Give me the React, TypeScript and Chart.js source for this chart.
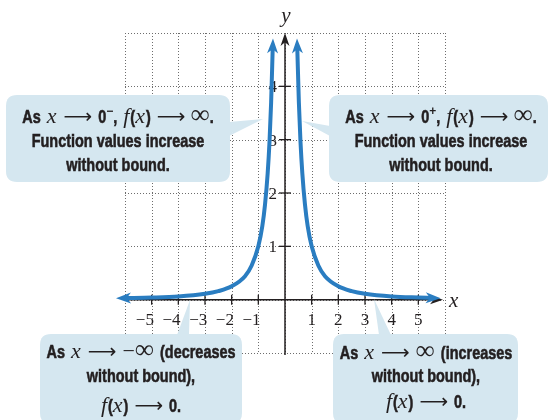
import React, { useEffect, useRef } from "react";
import { Chart, registerables } from "chart.js";

Chart.register(...registerables);

// ---- data ----
const leftX = [-6, -5, -4, -3, -2.5, -2, -1.5, -1.25, -1, -0.85, -0.75, -0.65, -0.58, -0.52, -0.46];
const leftY = [0.03, 0.04, 0.06, 0.11, 0.16, 0.25, 0.44, 0.64, 1.0, 1.38, 1.78, 2.37, 2.97, 3.7, 4.73];
const rightX = [0.46, 0.52, 0.58, 0.65, 0.75, 0.85, 1, 1.25, 1.5, 2, 2.5, 3, 4, 5, 5.5];
const rightY = [4.73, 3.7, 2.97, 2.37, 1.78, 1.38, 1.0, 0.64, 0.44, 0.25, 0.16, 0.11, 0.06, 0.04, 0.033];
const xTicks = [-5, -4, -3, -2, -1, 1, 2, 3, 4, 5];
const yTicks = [1, 2, 3, 4];
const xRange = [-6, 6];
const yRange = [-1, 5];

const BLUE = "#2a7dc1";
const INK = "#231f20";
const BOX = "#d5e7f0";

const B = 'bold 19px "Liberation Sans", Arial, sans-serif';
const M = 'italic 22px "Liberation Serif", "Times New Roman", serif';
const A = '20px "DejaVu Sans", sans-serif';
const S = '27px "Liberation Serif", serif';
const SUP = 'bold 12px "Liberation Sans", sans-serif';
const SX = 0.76;

type Seg = { t: string; f: string; sx?: number; dy?: number; w?: number; bold?: boolean };
const b = (t: string): Seg => ({ t, f: B, sx: SX, bold: true });
const m = (t: string): Seg => ({ t, f: M });
const arr: Seg = { t: "\u27F6", f: A, sx: 1.0 };
const inf: Seg = { t: "\u221E", f: S };
const g = (w: number): Seg => ({ t: "", f: B, w });

type Line = { segs: Seg[]; y: number };
type Callout = {
  box: [number, number, number, number];
  ptr: [number, number][];
  cx: number;
  lines: Line[];
};

const fx: Seg[] = [m("f"), g(1), b("("), m("x"), g(1), b(")")];
const line1L: Seg[] = [b("As"), g(6), m("x"), g(7), arr, g(6), b("0"), { t: "\u2212", f: SUP, dy: -8 }, b(","), g(6), ...fx, g(6), arr, g(5), inf, b(".")];
const line1R: Seg[] = [b("As"), g(6), m("x"), g(7), arr, g(6), b("0"), { t: "+", f: SUP, dy: -8 }, b(","), g(6), ...fx, g(6), arr, g(5), inf, b(".")];

const callouts: Callout[] = [
  {
    box: [6, 95, 230, 182],
    ptr: [[229, 122], [263, 119], [229, 136]],
    cx: 118,
    lines: [
      { segs: line1L, y: 123 },
      { segs: [b("Function values increase")], y: 147 },
      { segs: [b("without bound.")], y: 171 },
    ],
  },
  {
    box: [329, 95, 548, 182],
    ptr: [[330, 126], [302, 121], [330, 136]],
    cx: 441,
    lines: [
      { segs: line1R, y: 123 },
      { segs: [b("Function values increase")], y: 147 },
      { segs: [b("without bound.")], y: 171 },
    ],
  },
  {
    box: [40, 334, 242, 424],
    ptr: [[177, 335], [190, 300], [189, 335]],
    cx: 141,
    lines: [
      { segs: [b("As"), g(6), m("x"), g(7), arr, g(6), { t: "\u2212", f: '22px "Liberation Serif", serif' }, inf, g(6), b("(decreases")], y: 358 },
      { segs: [b("without bound),")], y: 382 },
      { segs: [...fx, g(6), arr, g(6), b("0.")], y: 412 },
    ],
  },
  {
    box: [333, 334, 518, 424],
    ptr: [[379, 335], [374, 299], [391, 335]],
    cx: 426,
    lines: [
      { segs: [b("As"), g(6), m("x"), g(7), arr, g(6), inf, g(6), b("(increases")], y: 359 },
      { segs: [b("without bound),")], y: 382 },
      { segs: [...fx, g(6), arr, g(6), b("0.")], y: 408 },
    ],
  },
];

function drawRich(ctx: CanvasRenderingContext2D, segs: Seg[], cx: number, baseline: number) {
  const widths = segs.map((s) => {
    if (s.w !== undefined) return s.w;
    ctx.font = s.f;
    return ctx.measureText(s.t).width * (s.sx ?? 1);
  });
  const total = widths.reduce((a, c) => a + c, 0);
  let x = cx - total / 2;
  segs.forEach((s, i) => {
    if (s.t) {
      ctx.save();
      ctx.font = s.f;
      ctx.fillStyle = INK;
      ctx.strokeStyle = INK;
      ctx.textAlign = "left";
      ctx.textBaseline = "alphabetic";
      ctx.translate(x, baseline + (s.dy ?? 0));
      ctx.scale(s.sx ?? 1, 1);
      ctx.fillText(s.t, 0, 0);
      if (s.bold) {
        ctx.lineWidth = 0.6;
        ctx.strokeText(s.t, 0, 0);
      }
      ctx.restore();
    }
    x += widths[i];
  });
}

function arrowHead(ctx: CanvasRenderingContext2D, tx: number, ty: number, ang: number, len: number, hw: number, color: string) {
  ctx.save();
  ctx.translate(tx, ty);
  ctx.rotate(ang);
  ctx.beginPath();
  ctx.moveTo(0, 0);
  ctx.lineTo(-len, -hw);
  ctx.lineTo(-len * 0.72, 0);
  ctx.lineTo(-len, hw);
  ctx.closePath();
  ctx.fillStyle = color;
  ctx.fill();
  ctx.restore();
}

function roundRect(ctx: CanvasRenderingContext2D, x0: number, y0: number, x1: number, y1: number, r: number) {
  ctx.beginPath();
  ctx.moveTo(x0 + r, y0);
  ctx.lineTo(x1 - r, y0);
  ctx.quadraticCurveTo(x1, y0, x1, y0 + r);
  ctx.lineTo(x1, y1 - r);
  ctx.quadraticCurveTo(x1, y1, x1 - r, y1);
  ctx.lineTo(x0 + r, y1);
  ctx.quadraticCurveTo(x0, y1, x0, y1 - r);
  ctx.lineTo(x0, y0 + r);
  ctx.quadraticCurveTo(x0, y0, x0 + r, y0);
  ctx.closePath();
}

const axesPlugin = {
  id: "axesPlugin",
  beforeDatasetsDraw(chart: any) {
    const ctx: CanvasRenderingContext2D = chart.ctx;
    const xs = chart.scales.x;
    const ys = chart.scales.y;
    const left = xs.getPixelForValue(xRange[0]);
    const right = xs.getPixelForValue(xRange[1]);
    const top = ys.getPixelForValue(yRange[1]);
    const bottom = ys.getPixelForValue(yRange[0]);
    // dotted grid
    ctx.save();
    ctx.strokeStyle = "#6d6d6d";
    ctx.lineWidth = 1;
    ctx.setLineDash([1, 2]);
    for (let v = xRange[0]; v <= xRange[1]; v++) {
      const px = Math.round(xs.getPixelForValue(v)) + 0.5;
      ctx.beginPath();
      ctx.moveTo(px, top);
      ctx.lineTo(px, bottom);
      ctx.stroke();
    }
    for (let v = yRange[0]; v <= yRange[1]; v++) {
      const py = Math.round(ys.getPixelForValue(v)) + 0.5;
      ctx.beginPath();
      ctx.moveTo(left, py);
      ctx.lineTo(right, py);
      ctx.stroke();
    }
    ctx.restore();

    const x0 = xs.getPixelForValue(0);
    const y0 = ys.getPixelForValue(0);
    ctx.save();
    ctx.strokeStyle = INK;
    ctx.lineWidth = 1.5;
    // x axis
    ctx.beginPath();
    ctx.moveTo(left, y0);
    ctx.lineTo(right - 8, y0);
    ctx.stroke();
    arrowHead(ctx, right - 2, y0, 0, 13, 4.5, INK);
    // y axis
    ctx.beginPath();
    ctx.moveTo(x0, bottom + 2);
    ctx.lineTo(x0, top + 8);
    ctx.stroke();
    arrowHead(ctx, x0, top, -Math.PI / 2, 13, 4.5, INK);
    // ticks
    ctx.lineWidth = 1.3;
    xTicks.forEach((v) => {
      const px = xs.getPixelForValue(v);
      ctx.beginPath();
      ctx.moveTo(px, y0 - 5);
      ctx.lineTo(px, y0 + 5);
      ctx.stroke();
    });
    yTicks.forEach((v) => {
      const py = ys.getPixelForValue(v);
      ctx.beginPath();
      ctx.moveTo(x0 - 6, py);
      ctx.lineTo(x0 + 6, py);
      ctx.stroke();
    });
    // tick labels
    ctx.fillStyle = INK;
    ctx.font = '17px "Liberation Serif", "Times New Roman", serif';
    ctx.textBaseline = "alphabetic";
    xTicks.forEach((v) => {
      const px = xs.getPixelForValue(v);
      const digit = String(Math.abs(v));
      const dw = ctx.measureText(digit).width;
      ctx.textAlign = "right";
      const label = v < 0 ? "\u2212" + digit : digit;
      ctx.fillText(label, px + dw / 2 - (v < 0 ? 2 : 0), y0 + 25);
    });
    ctx.textAlign = "right";
    yTicks.forEach((v) => {
      const py = ys.getPixelForValue(v);
      ctx.fillText(String(v), x0 - 8, py + 6);
    });
    // axis names
    ctx.font = 'italic 21px "Liberation Serif", "Times New Roman", serif';
    ctx.textAlign = "center";
    ctx.fillText("y", x0 + 1, top - 11);
    ctx.textAlign = "left";
    ctx.fillText("x", right + 4, y0 + 7);
    ctx.restore();
  },
  afterDatasetsDraw(chart: any) {
    const ctx: CanvasRenderingContext2D = chart.ctx;
    // arrowheads on curve ends
    [0, 1].forEach((di) => {
      const pts = chart.getDatasetMeta(di).data;
      const n = pts.length;
      const ends = [
        [pts[0], pts[1]],
        [pts[n - 1], pts[n - 2]],
      ];
      ends.forEach(([p, q]: any) => {
        const ang = Math.atan2(p.y - q.y, p.x - q.x);
        arrowHead(ctx, p.x + Math.cos(ang) * 9, p.y + Math.sin(ang) * 9, ang, 15, 5.5, BLUE);
      });
    });
    // callouts
    callouts.forEach((c) => {
      ctx.save();
      ctx.fillStyle = BOX;
      roundRect(ctx, c.box[0], c.box[1], c.box[2], c.box[3], 11);
      ctx.fill();
      ctx.beginPath();
      ctx.moveTo(c.ptr[0][0], c.ptr[0][1]);
      ctx.lineTo(c.ptr[1][0], c.ptr[1][1]);
      ctx.lineTo(c.ptr[2][0], c.ptr[2][1]);
      ctx.closePath();
      ctx.fill();
      ctx.restore();
      c.lines.forEach((l) => drawRich(ctx, l.segs, c.cx, l.y));
    });
  },
};

export default function App() {
  const ref = useRef<HTMLCanvasElement | null>(null);
  useEffect(() => {
    if (!ref.current) return;
    const chart = new Chart(ref.current, {
      type: "scatter",
      data: {
        datasets: [
          {
            data: leftX.map((x, i) => ({ x, y: leftY[i] })),
            showLine: true,
            borderColor: BLUE,
            borderWidth: 4,
            pointRadius: 0,
            cubicInterpolationMode: "monotone",
          },
          {
            data: rightX.map((x, i) => ({ x, y: rightY[i] })),
            showLine: true,
            borderColor: BLUE,
            borderWidth: 4,
            pointRadius: 0,
            cubicInterpolationMode: "monotone",
          },
        ],
      },
      options: {
        animation: false,
        responsive: true,
        maintainAspectRatio: false,
        layout: { padding: { left: 125, right: 104, top: 33, bottom: 67 } },
        plugins: { legend: { display: false }, tooltip: { enabled: false }, title: { display: false } },
        scales: {
          x: { type: "linear", min: xRange[0], max: xRange[1], display: false },
          y: { type: "linear", min: yRange[0], max: yRange[1], display: false },
        },
        events: [],
      },
      plugins: [axesPlugin],
    } as any);
    return () => chart.destroy();
  }, []);
  return (
    <div style={{ position: "fixed", left: 0, top: 0, width: 549, height: 420, background: "#fff" }}>
      <canvas ref={ref} />
    </div>
  );
}
